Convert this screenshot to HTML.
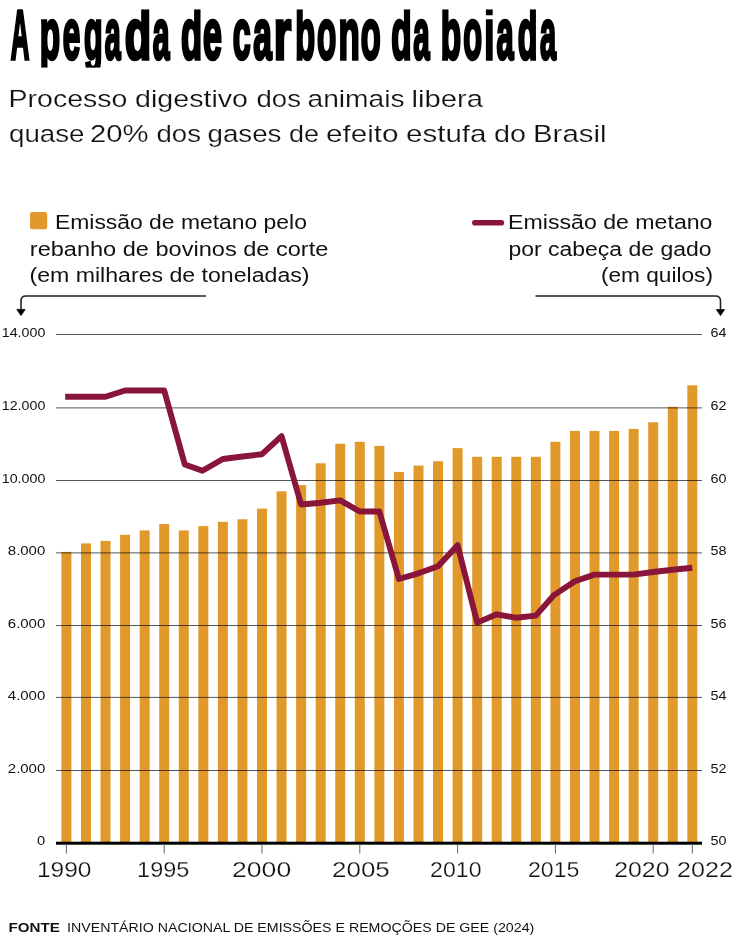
<!DOCTYPE html><html><head><meta charset="utf-8"><style>html,body{margin:0;padding:0;background:#fff;width:736px;height:940px;overflow:hidden}svg{display:block;will-change:transform;font-family:"Liberation Sans", sans-serif}</style></head><body>
<svg width="736" height="940" viewBox="0 0 736 940" style="font-family:&quot;Liberation Sans&quot;, sans-serif">
<defs><clipPath id="tc"><rect x="0" y="9.5" width="736" height="58"/></clipPath></defs>
<g clip-path="url(#tc)" fill="#000" stroke="#000" stroke-width="3.6" font-size="72" font-weight="bold">
<text x="10.66" y="58.5" textLength="18.62" lengthAdjust="spacingAndGlyphs">A</text>
<text x="39.80" y="58.5" textLength="20.37" lengthAdjust="spacingAndGlyphs">p</text>
<text x="62.77" y="58.5" textLength="17.51" lengthAdjust="spacingAndGlyphs">e</text>
<text x="83.95" y="58.5" textLength="18.58" lengthAdjust="spacingAndGlyphs">g</text>
<text x="104.76" y="58.5" textLength="15.96" lengthAdjust="spacingAndGlyphs">a</text>
<text x="124.83" y="58.5" textLength="26.43" lengthAdjust="spacingAndGlyphs">d</text>
<text x="152.82" y="58.5" textLength="16.79" lengthAdjust="spacingAndGlyphs">a</text>
<text x="180.98" y="58.5" textLength="21.09" lengthAdjust="spacingAndGlyphs">d</text>
<text x="203.07" y="58.5" textLength="18.89" lengthAdjust="spacingAndGlyphs">e</text>
<text x="232.74" y="58.5" textLength="17.90" lengthAdjust="spacingAndGlyphs">c</text>
<text x="253.32" y="58.5" textLength="18.57" lengthAdjust="spacingAndGlyphs">a</text>
<text x="273.85" y="58.5" textLength="17.43" lengthAdjust="spacingAndGlyphs">r</text>
<text x="295.15" y="58.5" textLength="19.88" lengthAdjust="spacingAndGlyphs">b</text>
<text x="317.07" y="58.5" textLength="19.26" lengthAdjust="spacingAndGlyphs">o</text>
<text x="338.41" y="58.5" textLength="21.25" lengthAdjust="spacingAndGlyphs">n</text>
<text x="360.82" y="58.5" textLength="19.95" lengthAdjust="spacingAndGlyphs">o</text>
<text x="391.33" y="58.5" textLength="20.37" lengthAdjust="spacingAndGlyphs">d</text>
<text x="413.24" y="58.5" textLength="16.38" lengthAdjust="spacingAndGlyphs">a</text>
<text x="440.80" y="58.5" textLength="20.37" lengthAdjust="spacingAndGlyphs">b</text>
<text x="463.20" y="58.5" textLength="18.81" lengthAdjust="spacingAndGlyphs">o</text>
<text x="484.26" y="58.5" textLength="10.12" lengthAdjust="spacingAndGlyphs">i</text>
<text x="496.50" y="58.5" textLength="17.11" lengthAdjust="spacingAndGlyphs">a</text>
<text x="517.68" y="58.5" textLength="19.64" lengthAdjust="spacingAndGlyphs">d</text>
<text x="539.95" y="58.5" textLength="16.06" lengthAdjust="spacingAndGlyphs">a</text>
</g>
<text x="8.50" y="106.6" font-size="24.5" font-weight="normal" textLength="119.00" lengthAdjust="spacingAndGlyphs" fill="#111" stroke="#fff" stroke-width="0.2">Processo</text>
<text x="135.00" y="106.6" font-size="24.5" font-weight="normal" textLength="113.00" lengthAdjust="spacingAndGlyphs" fill="#111" stroke="#fff" stroke-width="0.2">digestivo</text>
<text x="256.50" y="106.6" font-size="24.5" font-weight="normal" textLength="44.50" lengthAdjust="spacingAndGlyphs" fill="#111" stroke="#fff" stroke-width="0.2">dos</text>
<text x="307.50" y="106.6" font-size="24.5" font-weight="normal" textLength="97.00" lengthAdjust="spacingAndGlyphs" fill="#111" stroke="#fff" stroke-width="0.2">animais</text>
<text x="411.50" y="106.6" font-size="24.5" font-weight="normal" textLength="71.50" lengthAdjust="spacingAndGlyphs" fill="#111" stroke="#fff" stroke-width="0.2">libera</text>
<text x="9.00" y="141.6" font-size="24.5" font-weight="normal" textLength="75.50" lengthAdjust="spacingAndGlyphs" fill="#111" stroke="#fff" stroke-width="0.2">quase</text>
<text x="90.00" y="141.6" font-size="24.5" font-weight="normal" textLength="58.50" lengthAdjust="spacingAndGlyphs" fill="#111" stroke="#fff" stroke-width="0.2">20%</text>
<text x="156.50" y="141.6" font-size="24.5" font-weight="normal" textLength="44.50" lengthAdjust="spacingAndGlyphs" fill="#111" stroke="#fff" stroke-width="0.2">dos</text>
<text x="207.50" y="141.6" font-size="24.5" font-weight="normal" textLength="74.00" lengthAdjust="spacingAndGlyphs" fill="#111" stroke="#fff" stroke-width="0.2">gases</text>
<text x="289.00" y="141.6" font-size="24.5" font-weight="normal" textLength="30.00" lengthAdjust="spacingAndGlyphs" fill="#111" stroke="#fff" stroke-width="0.2">de</text>
<text x="326.00" y="141.6" font-size="24.5" font-weight="normal" textLength="72.50" lengthAdjust="spacingAndGlyphs" fill="#111" stroke="#fff" stroke-width="0.2">efeito</text>
<text x="406.00" y="141.6" font-size="24.5" font-weight="normal" textLength="80.50" lengthAdjust="spacingAndGlyphs" fill="#111" stroke="#fff" stroke-width="0.2">estufa</text>
<text x="494.00" y="141.6" font-size="24.5" font-weight="normal" textLength="32.00" lengthAdjust="spacingAndGlyphs" fill="#111" stroke="#fff" stroke-width="0.2">do</text>
<text x="533.00" y="141.6" font-size="24.5" font-weight="normal" textLength="73.50" lengthAdjust="spacingAndGlyphs" fill="#111" stroke="#fff" stroke-width="0.2">Brasil</text>
<text x="55.00" y="228.7" font-size="20" font-weight="normal" textLength="251.90" lengthAdjust="spacingAndGlyphs" fill="#111">Emissão de metano pelo</text>
<text x="29.80" y="255.5" font-size="20" font-weight="normal" textLength="298.50" lengthAdjust="spacingAndGlyphs" fill="#111">rebanho de bovinos de corte</text>
<text x="29.50" y="282.3" font-size="20" font-weight="normal" textLength="280.00" lengthAdjust="spacingAndGlyphs" fill="#111">(em milhares de toneladas)</text>
<text x="508.10" y="228.7" font-size="20" font-weight="normal" textLength="204.40" lengthAdjust="spacingAndGlyphs" fill="#111">Emissão de metano</text>
<text x="508.50" y="255.5" font-size="20" font-weight="normal" textLength="203.00" lengthAdjust="spacingAndGlyphs" fill="#111">por cabeça de gado</text>
<text x="600.90" y="282.3" font-size="20" font-weight="normal" textLength="112.10" lengthAdjust="spacingAndGlyphs" fill="#111">(em quilos)</text>
<text x="37.00" y="876.8" font-size="22" font-weight="normal" textLength="54.50" lengthAdjust="spacingAndGlyphs" fill="#111" stroke="#fff" stroke-width="0.25">1990</text>
<text x="137.10" y="876.8" font-size="22" font-weight="normal" textLength="52.20" lengthAdjust="spacingAndGlyphs" fill="#111" stroke="#fff" stroke-width="0.25">1995</text>
<text x="232.00" y="876.8" font-size="22" font-weight="normal" textLength="59.20" lengthAdjust="spacingAndGlyphs" fill="#111" stroke="#fff" stroke-width="0.25">2000</text>
<text x="332.10" y="876.8" font-size="22" font-weight="normal" textLength="57.70" lengthAdjust="spacingAndGlyphs" fill="#111" stroke="#fff" stroke-width="0.25">2005</text>
<text x="430.10" y="876.8" font-size="22" font-weight="normal" textLength="51.50" lengthAdjust="spacingAndGlyphs" fill="#111" stroke="#fff" stroke-width="0.25">2010</text>
<text x="528.00" y="876.8" font-size="22" font-weight="normal" textLength="51.50" lengthAdjust="spacingAndGlyphs" fill="#111" stroke="#fff" stroke-width="0.25">2015</text>
<text x="614.20" y="876.8" font-size="22" font-weight="normal" textLength="55.30" lengthAdjust="spacingAndGlyphs" fill="#111" stroke="#fff" stroke-width="0.25">2020</text>
<text x="677.10" y="876.8" font-size="22" font-weight="normal" textLength="56.00" lengthAdjust="spacingAndGlyphs" fill="#111" stroke="#fff" stroke-width="0.25">2022</text>
<text x="8.40" y="931.6" font-size="13" font-weight="bold" textLength="51.40" lengthAdjust="spacingAndGlyphs" fill="#111">FONTE</text>
<text x="67.00" y="931.6" font-size="13" font-weight="normal" textLength="467.30" lengthAdjust="spacingAndGlyphs" fill="#111">INVENTÁRIO NACIONAL DE EMISSÕES E REMOÇÕES DE GEE (2024)</text>
<text x="1.80" y="336.8" font-size="13" font-weight="normal" textLength="43.50" lengthAdjust="spacingAndGlyphs" fill="#111">14.000</text>
<text x="1.80" y="410.2" font-size="13" font-weight="normal" textLength="43.50" lengthAdjust="spacingAndGlyphs" fill="#111">12.000</text>
<text x="1.80" y="482.8" font-size="13" font-weight="normal" textLength="43.50" lengthAdjust="spacingAndGlyphs" fill="#111">10.000</text>
<text x="7.80" y="555.2" font-size="13" font-weight="normal" textLength="37.50" lengthAdjust="spacingAndGlyphs" fill="#111">8.000</text>
<text x="7.80" y="627.8" font-size="13" font-weight="normal" textLength="37.50" lengthAdjust="spacingAndGlyphs" fill="#111">6.000</text>
<text x="7.80" y="699.7" font-size="13" font-weight="normal" textLength="37.50" lengthAdjust="spacingAndGlyphs" fill="#111">4.000</text>
<text x="7.80" y="772.8" font-size="13" font-weight="normal" textLength="37.50" lengthAdjust="spacingAndGlyphs" fill="#111">2.000</text>
<text x="37.10" y="845.3" font-size="13" font-weight="normal" textLength="8.20" lengthAdjust="spacingAndGlyphs" fill="#111">0</text>
<text x="710.50" y="336.8" font-size="13" font-weight="normal" textLength="16.00" lengthAdjust="spacingAndGlyphs" fill="#111">64</text>
<text x="710.50" y="410.2" font-size="13" font-weight="normal" textLength="16.00" lengthAdjust="spacingAndGlyphs" fill="#111">62</text>
<text x="710.50" y="482.8" font-size="13" font-weight="normal" textLength="16.00" lengthAdjust="spacingAndGlyphs" fill="#111">60</text>
<text x="710.50" y="555.2" font-size="13" font-weight="normal" textLength="16.00" lengthAdjust="spacingAndGlyphs" fill="#111">58</text>
<text x="710.50" y="627.8" font-size="13" font-weight="normal" textLength="16.00" lengthAdjust="spacingAndGlyphs" fill="#111">56</text>
<text x="710.50" y="699.7" font-size="13" font-weight="normal" textLength="16.00" lengthAdjust="spacingAndGlyphs" fill="#111">54</text>
<text x="710.50" y="772.8" font-size="13" font-weight="normal" textLength="16.00" lengthAdjust="spacingAndGlyphs" fill="#111">52</text>
<text x="710.50" y="845.3" font-size="13" font-weight="normal" textLength="16.00" lengthAdjust="spacingAndGlyphs" fill="#111">50</text>
<rect x="30" y="212.1" width="17.2" height="17.1" rx="2.2" fill="#E2992B"/>
<line x1="474.8" y1="222.8" x2="501.4" y2="222.8" stroke="#89153A" stroke-width="5.6" stroke-linecap="round"/>
<path d="M205.9 296 H26 Q21 296 21 301 V309" fill="none" stroke="#222" stroke-width="1.6"/>
<path d="M16.9 309.4 L25.1 309.4 L21 315.6 Z" fill="#000" stroke="#000" stroke-width="0.8" stroke-linejoin="round"/>
<path d="M535.5 296 H715.5 Q720.5 296 720.5 301 V309" fill="none" stroke="#222" stroke-width="1.6"/>
<path d="M716.4 309.6 L724.6 309.6 L720.5 315.6 Z" fill="#000" stroke="#000" stroke-width="0.8" stroke-linejoin="round"/>
<rect x="61.40" y="551.90" width="10" height="291.10" fill="#E2992B"/>
<rect x="80.96" y="543.40" width="10" height="299.60" fill="#E2992B"/>
<rect x="100.52" y="540.90" width="10" height="302.10" fill="#E2992B"/>
<rect x="120.08" y="534.80" width="10" height="308.20" fill="#E2992B"/>
<rect x="139.64" y="530.40" width="10" height="312.60" fill="#E2992B"/>
<rect x="159.20" y="524.00" width="10" height="319.00" fill="#E2992B"/>
<rect x="178.76" y="530.40" width="10" height="312.60" fill="#E2992B"/>
<rect x="198.32" y="526.10" width="10" height="316.90" fill="#E2992B"/>
<rect x="217.88" y="521.80" width="10" height="321.20" fill="#E2992B"/>
<rect x="237.44" y="519.30" width="10" height="323.70" fill="#E2992B"/>
<rect x="257.00" y="508.60" width="10" height="334.40" fill="#E2992B"/>
<rect x="276.56" y="491.30" width="10" height="351.70" fill="#E2992B"/>
<rect x="296.12" y="485.10" width="10" height="357.90" fill="#E2992B"/>
<rect x="315.68" y="463.30" width="10" height="379.70" fill="#E2992B"/>
<rect x="335.24" y="443.70" width="10" height="399.30" fill="#E2992B"/>
<rect x="354.80" y="441.80" width="10" height="401.20" fill="#E2992B"/>
<rect x="374.36" y="445.90" width="10" height="397.10" fill="#E2992B"/>
<rect x="393.92" y="471.90" width="10" height="371.10" fill="#E2992B"/>
<rect x="413.48" y="465.60" width="10" height="377.40" fill="#E2992B"/>
<rect x="433.04" y="461.20" width="10" height="381.80" fill="#E2992B"/>
<rect x="452.60" y="448.10" width="10" height="394.90" fill="#E2992B"/>
<rect x="472.16" y="456.80" width="10" height="386.20" fill="#E2992B"/>
<rect x="491.72" y="456.80" width="10" height="386.20" fill="#E2992B"/>
<rect x="511.28" y="456.80" width="10" height="386.20" fill="#E2992B"/>
<rect x="530.84" y="456.80" width="10" height="386.20" fill="#E2992B"/>
<rect x="550.40" y="441.80" width="10" height="401.20" fill="#E2992B"/>
<rect x="569.96" y="430.90" width="10" height="412.10" fill="#E2992B"/>
<rect x="589.52" y="430.90" width="10" height="412.10" fill="#E2992B"/>
<rect x="609.08" y="430.90" width="10" height="412.10" fill="#E2992B"/>
<rect x="628.64" y="428.90" width="10" height="414.10" fill="#E2992B"/>
<rect x="648.20" y="422.30" width="10" height="420.70" fill="#E2992B"/>
<rect x="667.76" y="406.80" width="10" height="436.20" fill="#E2992B"/>
<rect x="687.32" y="385.30" width="10" height="457.70" fill="#E2992B"/>
<line x1="56" y1="334.5" x2="702" y2="334.5" stroke="#000" stroke-opacity="0.66" stroke-width="1"/>
<line x1="56" y1="407.9" x2="702" y2="407.9" stroke="#000" stroke-opacity="0.66" stroke-width="1"/>
<line x1="56" y1="480.5" x2="702" y2="480.5" stroke="#000" stroke-opacity="0.66" stroke-width="1"/>
<line x1="56" y1="552.9" x2="702" y2="552.9" stroke="#000" stroke-opacity="0.66" stroke-width="1"/>
<line x1="56" y1="625.5" x2="702" y2="625.5" stroke="#000" stroke-opacity="0.66" stroke-width="1"/>
<line x1="56" y1="697.4" x2="702" y2="697.4" stroke="#000" stroke-opacity="0.66" stroke-width="1"/>
<line x1="56" y1="770.5" x2="702" y2="770.5" stroke="#000" stroke-opacity="0.66" stroke-width="1"/>
<rect x="56" y="841.7" width="646" height="3" fill="#000"/>
<line x1="66.40" y1="844.7" x2="66.40" y2="853.6" stroke="#666" stroke-width="1"/>
<line x1="164.20" y1="844.7" x2="164.20" y2="853.6" stroke="#666" stroke-width="1"/>
<line x1="262.00" y1="844.7" x2="262.00" y2="853.6" stroke="#666" stroke-width="1"/>
<line x1="359.80" y1="844.7" x2="359.80" y2="853.6" stroke="#666" stroke-width="1"/>
<line x1="457.60" y1="844.7" x2="457.60" y2="853.6" stroke="#666" stroke-width="1"/>
<line x1="555.40" y1="844.7" x2="555.40" y2="853.6" stroke="#666" stroke-width="1"/>
<line x1="653.20" y1="844.7" x2="653.20" y2="853.6" stroke="#666" stroke-width="1"/>
<line x1="692.32" y1="844.7" x2="692.32" y2="853.6" stroke="#666" stroke-width="1"/>
<polyline points="65.20,396.80 66.40,396.80 85.96,396.80 105.52,396.80 125.08,390.50 144.64,390.50 164.20,390.50 184.76,464.40 202.42,470.80 222.88,459.00 242.44,456.50 262.00,454.20 281.56,436.20 301.12,504.50 320.68,502.70 340.24,500.40 359.80,511.50 379.36,511.50 398.92,579.00 418.48,573.30 438.04,566.30 457.60,545.20 477.16,622.60 496.72,614.30 516.28,617.80 535.84,615.60 553.90,595.10 574.96,581.20 594.52,574.60 614.08,574.60 633.64,574.60 653.20,572.00 672.76,569.70 692.32,567.70" fill="none" stroke="#89153A" stroke-width="5.9" stroke-linejoin="round" stroke-linecap="butt"/>
</svg></body></html>
